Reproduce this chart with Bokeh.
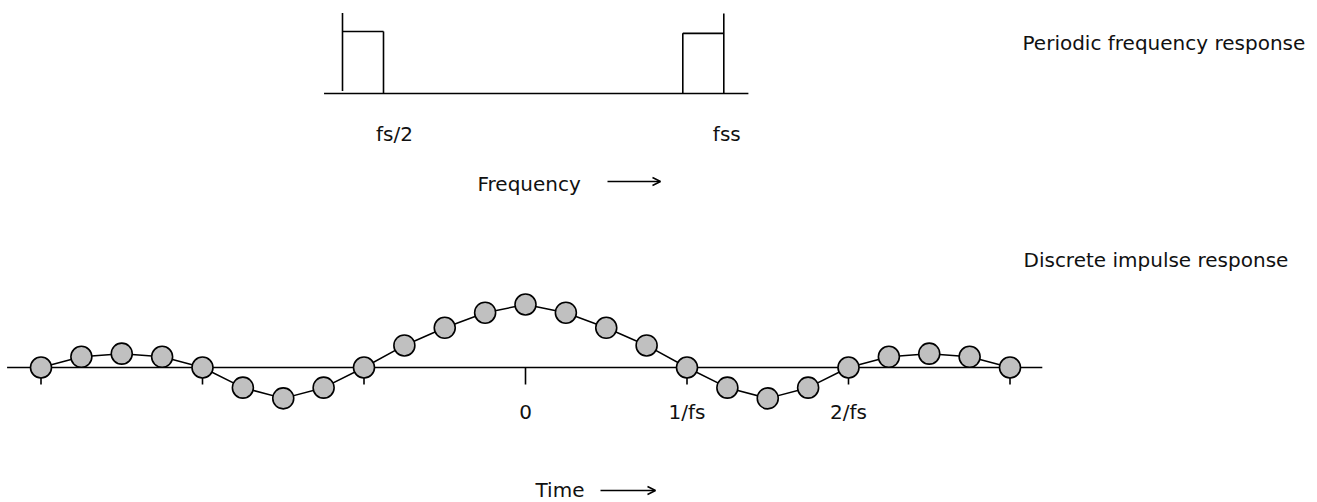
import numpy as np
from bokeh.plotting import figure
from bokeh.models import Range1d, Arrow, OpenHead, Label
from bokeh.core.properties import value
from bokeh.embed import file_html
from bokeh.resources import INLINE

# ---------------- data ----------------
# Discrete impulse response: samples n = -12..12, 4 samples per 1/fs
sample_index = list(range(-12, 13))
samples_per_tick = 4
impulse_values = [0.0, 0.17, 0.22, 0.17, 0.0, -0.32, -0.49, -0.32, 0.0,
                  0.35, 0.63, 0.87, 1.0, 0.87, 0.63, 0.35, 0.0,
                  -0.32, -0.49, -0.32, 0.0, 0.17, 0.22, 0.17, 0.0]
time_ticks = [-3, -2, -1, 0, 1, 2, 3]
time_label_pos = [0, 1, 2]
time_labels = ["0", "1/fs", "2/fs"]
time_axis_span = [-3.21, 3.2]

# Periodic frequency response (schematic)
freq_axis_span = [-0.45, 9.9]
band_left = [0.0, 8.3]          # start of each band
band_right = [1.0, 9.3]         # end of each band
band_levels = [1.0, 0.97]
spike_x = [0.0, 9.3]
spike_bottom = [0.04, 0.0]
spike_top = [1.3, 1.29]
freq_label_pos = [1.0, 9.3]
freq_labels = ["fs/2", "fss"]

# ---------------- figure ----------------
W, H = 1317, 502
p = figure(width=W, height=H, x_range=Range1d(0, W), y_range=Range1d(H, 0),
           output_backend="svg", toolbar_location=None,
           x_axis_type=None, y_axis_type=None, min_border=0)
p.grid.visible = False
p.outline_line_color = None
p.background_fill_color = "white"
p.border_fill_color = "white"

# named ranges (mapped onto the pixel frame)
t0_px, t_unit = 525.0, 161.5
a0_px, a_unit = 367.0, 63.0
f0_px, f_unit = 342.0, 41.0
m0_px, m_unit = 93.0, 62.0
x_lo, x_hi = 0, W
y_top, y_bot = 0, H
p.extra_x_ranges = {
    "time": Range1d((x_lo - t0_px) / t_unit, (x_hi - t0_px) / t_unit),
    "freq": Range1d((x_lo - f0_px) / f_unit, (x_hi - f0_px) / f_unit),
}
p.extra_y_ranges = {
    "amp": Range1d(-(y_bot - a0_px) / a_unit, (a0_px - y_top) / a_unit),
    "mag": Range1d(-(y_bot - m0_px) / m_unit, (m0_px - y_top) / m_unit),
}

FONT = value("DejaVu Sans")
FS = "20px"
TXT = "#111111"
LW = 1.6

# ---- top: frequency response ----
p.segment(x0=[freq_axis_span[0]], y0=[0], x1=[freq_axis_span[1]], y1=[0],
          x_range_name="freq", y_range_name="mag", line_color="black", line_width=LW)
p.segment(x0=spike_x, y0=spike_bottom, x1=spike_x, y1=spike_top,
          x_range_name="freq", y_range_name="mag", line_color="black", line_width=LW)
p.segment(x0=band_left, y0=band_levels, x1=band_right, y1=band_levels,
          x_range_name="freq", y_range_name="mag", line_color="black", line_width=LW)
edge_x = [band_right[0], band_left[1]]
edge_top = [band_levels[0], band_levels[1]]
p.segment(x0=edge_x, y0=[0, 0], x1=edge_x, y1=edge_top,
          x_range_name="freq", y_range_name="mag", line_color="black", line_width=LW)
p.text(x=freq_label_pos, y=[0, 0], text=freq_labels, x_range_name="freq", y_range_name="mag",
       x_offset=[11, 3], y_offset=40, text_align="center", text_baseline="middle",
       text_font=FONT, text_font_size=FS, text_color=TXT)

# ---- bottom: impulse response ----
t = [n / samples_per_tick for n in sample_index]
p.segment(x0=[time_axis_span[0]], y0=[0], x1=[time_axis_span[1]], y1=[0],
          x_range_name="time", y_range_name="amp", line_color="black", line_width=LW)
tick_len = 17.0 / a_unit
p.segment(x0=time_ticks, y0=[0] * len(time_ticks), x1=time_ticks, y1=[-tick_len] * len(time_ticks),
          x_range_name="time", y_range_name="amp", line_color="black", line_width=LW)
p.line(t, impulse_values, x_range_name="time", y_range_name="amp",
       line_color="black", line_width=1.5)
p.scatter(t, impulse_values, x_range_name="time", y_range_name="amp", size=21,
          fill_color="#c0c0c0", line_color="black", line_width=1.6)
p.text(x=time_label_pos, y=[0] * len(time_label_pos), text=time_labels,
       x_range_name="time", y_range_name="amp", x_offset=0, y_offset=44,
       text_align="center", text_baseline="middle",
       text_font=FONT, text_font_size=FS, text_color=TXT)

# ---- annotations ----
def label(x, y, s):
    p.add_layout(Label(x=x, y=y, text=s, text_align="left", text_baseline="middle",
                       text_font="DejaVu Sans", text_font_size=FS, text_color=TXT))

label(1022, 42, "Periodic frequency response")
label(1023, 259, "Discrete impulse response")
label(477, 183, "Frequency")
label(535, 489, "Time")

for xs, xe, yy in [(607, 660, 181), (600, 655, 490)]:
    p.add_layout(Arrow(x_start=xs, y_start=yy, x_end=xe, y_end=yy, line_width=1.5,
                       line_color="black",
                       end=OpenHead(size=8, line_width=1.5, line_color="black")))

open("out.html", "w").write(file_html(p, INLINE))
